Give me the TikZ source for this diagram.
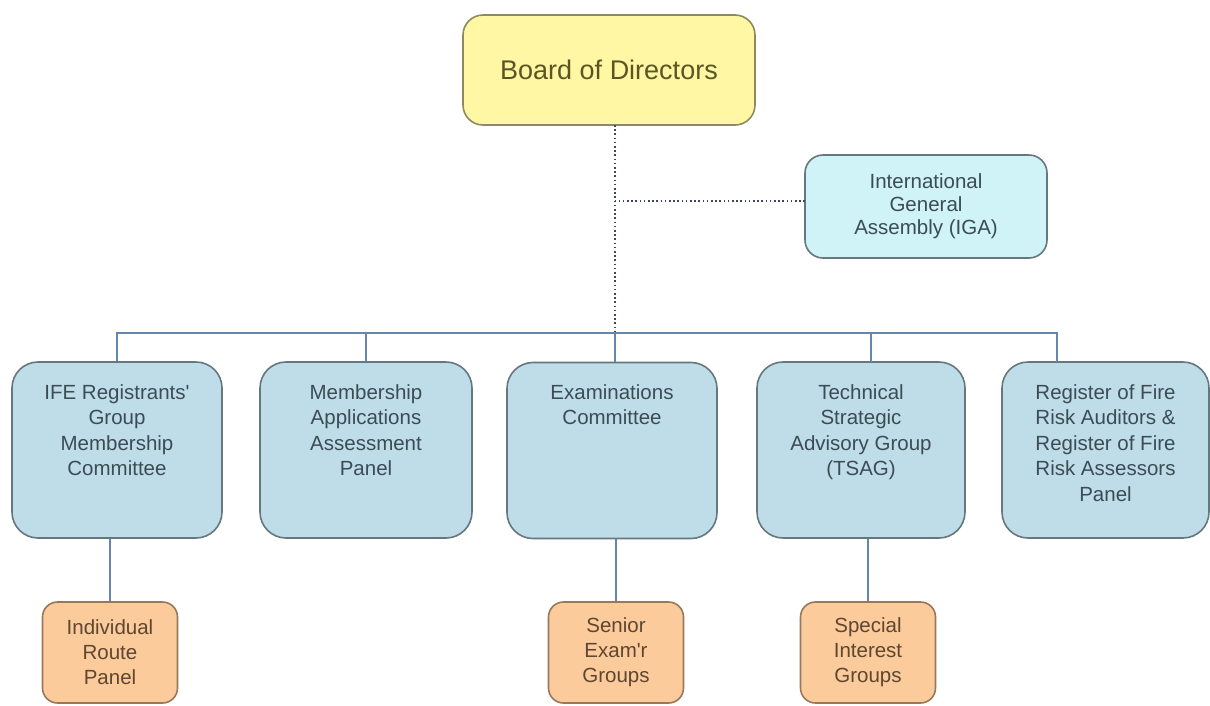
\documentclass[tikz,border=0pt]{standalone}
\usepackage{fontspec}
\setmainfont{Liberation Sans}
\definecolor{yelfill}{HTML}{FFF7A3}
\definecolor{yelline}{HTML}{8C8A5E}
\definecolor{yeltext}{HTML}{5A5522}
\definecolor{bluefill}{HTML}{BFDDE8}
\definecolor{blueline}{HTML}{66777E}
\definecolor{bluetext}{HTML}{3C4C55}
\definecolor{cyanfill}{HTML}{CFF3F7}
\definecolor{orfill}{HTML}{FCCB9C}
\definecolor{orline}{HTML}{98785A}
\definecolor{ortext}{HTML}{5E4630}
\definecolor{conncol}{HTML}{6686AA}
\definecolor{dotcol}{HTML}{3E4660}
\tikzset{
  boardbox/.style={draw=yelline, fill=yelfill, line width=1.6pt, rounded corners=20pt,
    minimum width=292pt, minimum height=110pt, inner sep=0pt, text=yeltext,
    font=\fontsize{27}{32}\selectfont},
  igabox/.style={draw=blueline, fill=cyanfill, line width=1.6pt, rounded corners=18pt,
    minimum width=242pt, minimum height=103pt, inner sep=0pt, text=bluetext, align=center,
    font=\fontsize{20.5}{23}\selectfont},
  bluebox/.style={draw=blueline, fill=bluefill, line width=1.6pt, rounded corners=26pt,
    minimum height=176pt, inner sep=0pt},
  bluetxt/.style={anchor=north, inner sep=0pt, align=center, text=bluetext,
    font=\fontsize{20.5}{25.5}\selectfont},
  orbox/.style={draw=orline, fill=orfill, line width=1.6pt, rounded corners=15pt,
    minimum width=135pt, minimum height=101pt, inner sep=0pt, text=ortext, align=center,
    font=\fontsize{20.5}{25}\selectfont},
  conn/.style={draw=conncol, line width=1.8pt},
  dotline/.style={draw=dotcol, line width=1.8pt, dash pattern=on 1.6pt off 2.6pt}
}
\begin{document}
\begin{tikzpicture}[x=1pt,y=-1pt]
\useasboundingbox (0,0) rectangle (1210,705);
\fill[white] (0,0) rectangle (1210,705);
% top
\node[boardbox] (board) at (609,70) {Board of Directors};
\node[igabox] (iga) at (926,206.5) {International\\General\\Assembly (IGA)};
% second row boxes
\node[bluebox, minimum width=210pt] (b1) at (117,450) {};
\node[bluebox, minimum width=212pt] (b2) at (366,450) {};
\node[bluebox, minimum width=210pt] (b3) at (612,450.5) {};
\node[bluebox, minimum width=208pt] (b4) at (861,450) {};
\node[bluebox, minimum width=207pt] (b5) at (1105.5,450) {};
\node[bluetxt] (t1) at (117,384) {IFE Registrants\textquotesingle\\Group\\Membership\\Committee};
\node[bluetxt] (t2) at (366,384) {Membership\\Applications\\Assessment\\Panel};
\node[bluetxt] (t3) at (612,384) {Examinations\\Committee};
\node[bluetxt] (t4) at (861,384) {Technical\\Strategic\\Advisory Group\\(TSAG)};
\node[bluetxt] (t5) at (1105.5,384) {Register of Fire\\Risk Auditors \&\\Register of Fire\\Risk Assessors\\Panel};
% third row
\node[orbox] (oa) at (110,652.5) {Individual\\Route\\Panel};
\node[orbox] (ob) at (616,652.5) {Senior\\Exam\textquotesingle r\\Groups};
\node[orbox] (oc) at (868,652.5) {Special\\Interest\\Groups};
% coordinates
\coordinate (busy) at (0,333);
\coordinate (dtop) at (615,125);
\coordinate (d3) at (615,362);
\coordinate (d4) at (871,362);
\coordinate (d5) at (1057,362);
\coordinate (igaL) at (805,201);
% connectors
\draw[conn] (b1.north) -- (b1.north |- busy) -- (d5 |- busy) -- (d5);
\draw[conn] (b2.north) -- (b2.north |- busy);
\draw[conn] (d3) -- (d3 |- busy);
\draw[conn] (d4) -- (d4 |- busy);
\draw[dotline] (dtop) -- (d3 |- busy);
\draw[dotline] (igaL) -- (dtop |- igaL);
\draw[conn] (oa.north) -- (oa.north |- b1.south);
\draw[conn] (ob.north) -- (ob.north |- b3.south);
\draw[conn] (oc.north) -- (oc.north |- b4.south);
\end{tikzpicture}
\end{document}
